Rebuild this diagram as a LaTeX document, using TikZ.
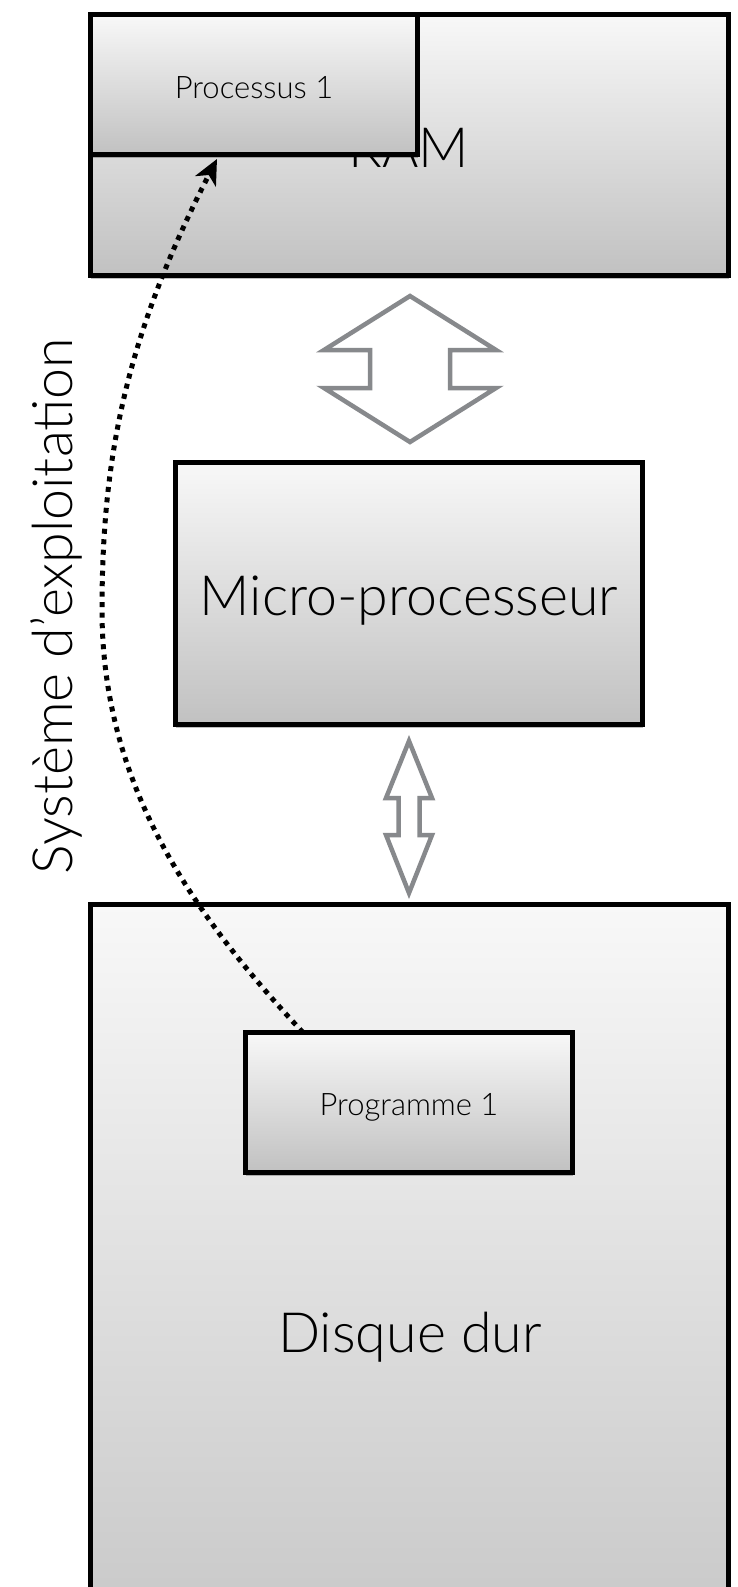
\documentclass[tikz,border=0pt]{standalone}
\usepackage{fontspec}
\setmainfont{Lato Light}
\usetikzlibrary{arrows.meta,shadows}

\definecolor{arrowgray}{HTML}{87898C}
\definecolor{boxtop}{HTML}{F8F8F8}
\definecolor{boxbottom}{HTML}{C1C1C1}
\definecolor{diskbottom}{HTML}{CACACA}

\tikzset{
  box/.style={draw=black, line width=5.5pt, top color=boxtop, bottom color=boxbottom,
    inner sep=0pt, outer sep=0pt, rectangle,
    drop shadow={shadow xshift=0.5pt, shadow yshift=-3pt, opacity=0.25, fill=black}},
  bigtext/.style={font=\fontsize{55.5}{62}\selectfont, inner sep=0pt, anchor=base},
  smalltext/.style={font=\fontsize{31}{36}\selectfont, inner sep=0pt, anchor=base},
  busarrow/.style={draw=arrowgray, line width=4.5pt, fill=white, line join=miter},
  osflow/.style={line width=5pt, dash pattern=on 5pt off 5.5pt, line cap=butt,
    -{Stealth[length=25pt, width=23pt, inset=7pt]}}
}

\begin{document}
\begin{tikzpicture}[x=1pt,y=-1pt]
  \useasboundingbox (0,0) rectangle (738,1587);

  % main memory with the running process
  \node[box, minimum width=638pt, minimum height=261pt] (ram) at (409.5,145) {};
  \node[bigtext] (ramtxt) at (409,167) {RAM};
  \node[box, minimum width=327pt, minimum height=140pt] (proc) at (254,84.5) {};
  \node[smalltext] (proctxt) at (254,98) {Processus 1};

  % processor
  \node[box, minimum width=467pt, minimum height=262pt] (cpu) at (409,593.5) {};
  \node[bigtext] (cputxt) at (409,615) {Micro-processeur};

  % hard disk (runs past the bottom edge) with the stored program
  \node[box, bottom color=diskbottom, minimum width=638pt, minimum height=695.5pt] (disk) at (409.5,1252.25) {};
  \node[bigtext] (disktxt) at (410,1352) {Disque dur};
  \node[box, minimum width=327pt, minimum height=140pt] (prog) at (409,1102.5) {};
  \node[smalltext] (progtxt) at (409,1115) {Programme 1};

  % buses
  \draw[busarrow] (410,296) -- (496,350) -- (450,350) -- (450,388) -- (496,388)
    -- (410,442) -- (324,388) -- (370,388) -- (370,350) -- (324,350) -- cycle;
  \draw[busarrow] (409,741) -- (432,798) -- (419.5,798) -- (419.5,835) -- (432,835)
    -- (409,893) -- (386,835) -- (398.5,835) -- (398.5,798) -- (386,798) -- cycle;

  % loading the program into memory
  \node[bigtext, rotate=90] (os) at (72,606) {Système d’exploitation};
  \coordinate (src) at ([xshift=57.5pt]prog.north west);
  \coordinate (mid) at (102,610);
  \coordinate (dst) at (217,159);
  \draw[osflow] (src) .. controls +(-116,-124) and (102,780) .. (mid)
    .. controls (102,460) and (125,338) .. (dst);
\end{tikzpicture}
\end{document}
